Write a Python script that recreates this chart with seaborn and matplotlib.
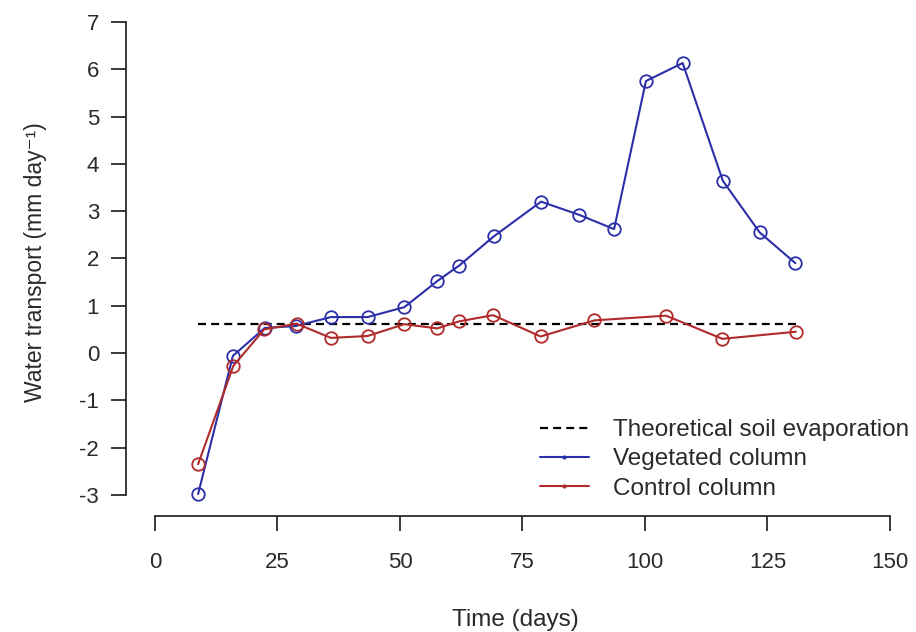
import numpy as np
import pandas as pd
import matplotlib
matplotlib.use("Agg")
import matplotlib.pyplot as plt
from matplotlib.lines import Line2D
import seaborn as sns

# Data
veg_days = [8.8, 15.9, 22.4, 28.7, 35.9, 43.4, 50.9, 57.6, 62.1, 69.2,
            78.8, 86.6, 93.7, 100.2, 107.7, 115.9, 123.4, 130.7]
veg_flux = [-2.98, -0.06, 0.53, 0.57, 0.76, 0.76, 0.97, 1.52, 1.85, 2.47,
            3.2, 2.92, 2.62, 5.75, 6.13, 3.64, 2.55, 1.9]
ctrl_days = [8.8, 16.0, 22.3, 28.9, 35.9, 43.4, 50.9, 57.6, 62.1, 69.0,
             78.7, 89.7, 104.3, 115.8, 130.8]
ctrl_flux = [-2.35, -0.27, 0.5, 0.62, 0.32, 0.36, 0.61, 0.52, 0.67, 0.8,
             0.35, 0.69, 0.79, 0.3, 0.45]
evap_days = [8.8, 130.8]
evap_flux = [0.61, 0.61]

x_ticks = [0, 25, 50, 75, 100, 125, 150]
y_ticks = [-3, -2, -1, 0, 1, 2, 3, 4, 5, 6, 7]

blue = "#2b2fa8"
red = "#b02a2a"
ink = "#2a2a2a"
dash = (0, (3.6, 2.3))

sns.set_style("white")
plt.rcParams["font.family"] = ["Liberation Sans", "DejaVu Sans"]

fig = plt.figure(figsize=(9.16, 6.32), dpi=100)
ax = fig.add_axes([0.1371, 0.1832, 0.8505, 0.8046])

veg = pd.DataFrame({"day": veg_days, "flux": veg_flux})
ctrl = pd.DataFrame({"day": ctrl_days, "flux": ctrl_flux})
evap = pd.DataFrame({"day": evap_days, "flux": evap_flux})

sns.lineplot(data=evap, x="day", y="flux", ax=ax, color="black", lw=1.6,
             linestyle=dash)
sns.lineplot(data=veg, x="day", y="flux", ax=ax, color=blue, lw=1.5,
             marker="o", markersize=9, markerfacecolor="none",
             markeredgecolor=blue, markeredgewidth=1.3)
sns.lineplot(data=ctrl, x="day", y="flux", ax=ax, color=red, lw=1.5,
             marker="o", markersize=9, markerfacecolor="none",
             markeredgecolor=red, markeredgewidth=1.3)

ax.set_xlim(-6, 153)
ax.set_ylim(-3.45, 7.3)
ax.set_xticks(x_ticks)
ax.set_yticks(y_ticks)
ax.set_yticklabels([str(v) for v in y_ticks])

for s in ["top", "right"]:
    ax.spines[s].set_visible(False)
ax.spines["left"].set_bounds(-3, 7)
ax.spines["bottom"].set_bounds(0, 150)
for s in ["left", "bottom"]:
    ax.spines[s].set_color(ink)
    ax.spines[s].set_linewidth(1.3)

ax.tick_params(axis="both", direction="out", length=10.5, width=1.3,
               color=ink, labelsize=16, labelcolor=ink,
               bottom=True, left=True)
ax.tick_params(axis="x", pad=15)
ax.tick_params(axis="y", pad=8.5)

ax.set_xlabel("Time (days)", fontsize=17.5, color=ink)
ax.set_ylabel("Water transport (mm day\u207b\u00b9)", fontsize=16.5, color=ink)
ax.xaxis.set_label_coords(0.5, -0.1825)
ax.yaxis.set_label_coords(-0.101, 0.5)

handles = [
    Line2D([], [], color="black", lw=1.6, linestyle=dash),
    Line2D([], [], color=blue, lw=1.5, marker="o", markersize=2),
    Line2D([], [], color=red, lw=1.5, marker="o", markersize=2),
]
labels = ["Theoretical soil evaporation", "Vegetated column", "Control column"]
ax.legend(handles, labels, loc="upper left", bbox_to_anchor=(0.532, 0.191),
          frameon=False, fontsize=17.5, handlelength=2.0, labelspacing=0.3,
          handletextpad=1.0, borderpad=0, borderaxespad=0, labelcolor=ink)

fig.savefig("out.png", dpi=100)
